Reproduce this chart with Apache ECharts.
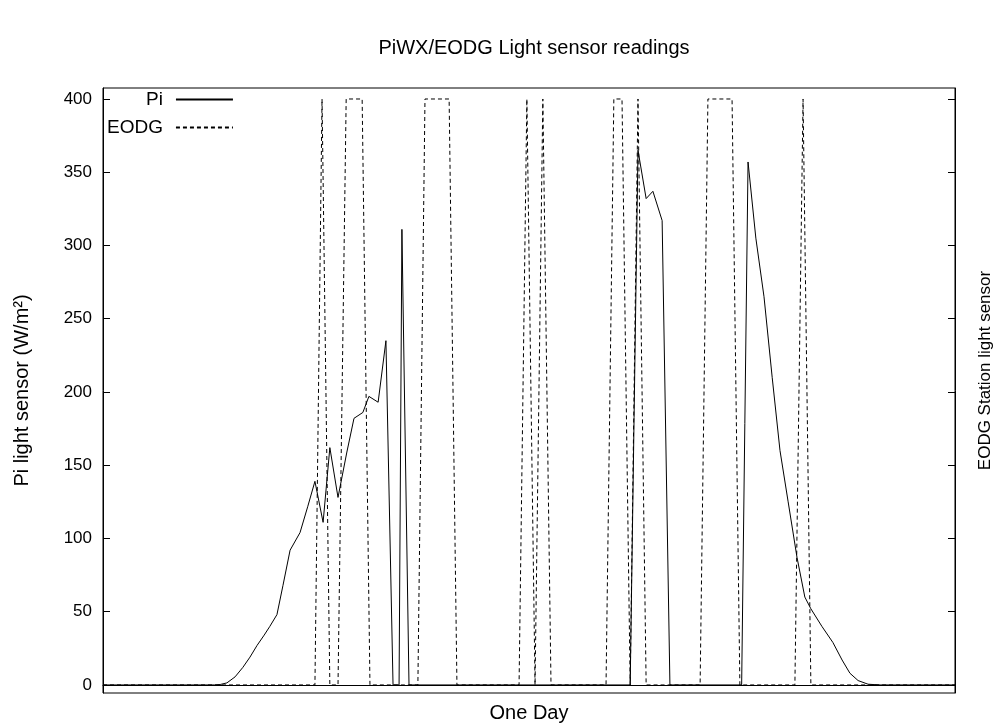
<!DOCTYPE html>
<html>
<head>
<meta charset="utf-8">
<script src="https://cdn.jsdelivr.net/npm/echarts@6/dist/echarts.min.js"></script>
<style>html,body{margin:0;padding:0;background:#fff}#c{width:1000px;height:727px}</style>
</head>
<body>
<div id="c"></div>
<script>
// Time of day in hours, values in W/m^2
const piHours = [0.00, 3.15, 3.30, 3.49, 3.72, 3.94, 4.14, 4.34, 4.54, 4.70, 4.90, 5.07, 5.27, 5.55, 5.77, 5.97, 6.20, 6.39, 6.62, 6.87, 7.07, 7.32, 7.49, 7.75, 7.97, 8.17, 8.34, 8.42, 8.62, 14.85, 15.07, 15.30, 15.49, 15.75, 15.97, 17.99, 18.17, 18.39, 18.62, 18.85, 19.07, 19.30, 19.55, 19.77, 19.94, 20.25, 20.56, 20.82, 21.04, 21.27, 21.55, 21.89, 24.00];
const piValues = [0, 0, 0.3, 1.4, 5.5, 12, 19, 27, 34, 40, 48, 68, 92, 104, 122, 139, 111, 162, 128, 159, 182, 186, 197, 193, 235, 0, 0, 311, 0, 0, 365, 332, 337, 317, 0, 0, 357, 305, 265, 210, 160, 125, 87, 60, 52, 40, 29, 17, 8, 3, 0.5, 0, 0];
const eodgHours = [0.00, 5.97, 6.17, 6.39, 6.62, 6.85, 7.30, 7.52, 8.87, 9.07, 9.75, 9.97, 11.72, 11.94, 12.17, 12.39, 12.62, 14.17, 14.39, 14.62, 14.85, 15.07, 15.30, 16.82, 17.04, 17.72, 17.94, 19.49, 19.72, 19.94, 24.00];
const eodgValues = [0, 0, 400, 0, 0, 400, 400, 0, 0, 400, 400, 0, 0, 400, 0, 400, 0, 0, 400, 400, 0, 400, 0, 0, 400, 400, 0, 0, 400, 0, 0];
const yTicks = [0, 50, 100, 150, 200, 250, 300, 350, 400];

const pair = (xs, ys) => xs.map((x, i) => [x, ys[i]]);
const font = "'Liberation Sans', Arial, sans-serif";
const FS = 20;

const chart = echarts.init(document.getElementById('c'), null, {renderer: 'canvas'});
chart.setOption({
  animation: false,
  backgroundColor: '#fff',
  textStyle: {fontFamily: font, color: '#000'},
  title: {
    text: 'PiWX/EODG Light sensor readings',
    left: 529, top: 33, textAlign: 'center',
    textStyle: {fontFamily: font, fontSize: FS, fontWeight: 'normal', color: '#000'}
  },
  legend: {
    orient: 'vertical', left: 102, top: 85, align: 'right',
    itemWidth: 57, itemHeight: 10, itemGap: 9,
    itemStyle: {opacity: 0},
    textStyle: {fontFamily: font, fontSize: 19, color: '#000', align: 'right', padding: [0, 8, 0, 0]},
    data: ['Pi', 'EODG']
  },
  grid: {left: 103, right: 45, top: 88, bottom: 34, show: true, borderColor: '#000', borderWidth: 1, containLabel: false, outerBoundsMode: 'none'},
  xAxis: {
    type: 'value', min: 0, max: 24,
    name: 'One Day', nameLocation: 'middle', nameGap: 10,
    nameTextStyle: {fontFamily: font, fontSize: FS, color: '#000', verticalAlign: 'top'},
    axisLine: {show: true, lineStyle: {color: '#000', width: 1}},
    axisTick: {show: false}, axisLabel: {show: false}, splitLine: {show: false}
  },
  yAxis: [{
    type: 'value', min: -5.5, max: 407.5, position: 'left',
    name: 'Pi light sensor (W/m²)', nameLocation: 'middle', nameRotate: 90, nameGap: 71,
    nameTextStyle: {fontFamily: font, fontSize: FS, color: '#000'},
    axisLine: {show: true, lineStyle: {color: '#000', width: 1}},
    axisTick: {show: true, inside: true, length: 7, customValues: yTicks, lineStyle: {color: '#000'}},
    axisLabel: {show: true, customValues: yTicks, margin: 11, fontFamily: font, fontSize: 17, color: '#000'},
    splitLine: {show: false}
  }, {
    type: 'value', min: -5.5, max: 407.5, position: 'right',
    name: 'EODG Station light sensor', nameLocation: 'middle', nameRotate: 90, nameGap: 22,
    nameTextStyle: {fontFamily: font, fontSize: 17, color: '#000', padding: [0, 0, 0, 40]},
    axisLine: {show: true, lineStyle: {color: '#000', width: 1}},
    axisTick: {show: true, inside: true, length: 7, customValues: yTicks, lineStyle: {color: '#000'}},
    axisLabel: {show: false},
    splitLine: {show: false}
  }],
  series: [{
    name: 'Pi', type: 'line', yAxisIndex: 0, showSymbol: false, symbol: 'none',
    data: pair(piHours, piValues),
    lineStyle: {color: '#000', width: 1, type: 'solid'},
    itemStyle: {color: '#000'}
  }, {
    name: 'EODG', type: 'line', yAxisIndex: 0, showSymbol: false, symbol: 'none',
    data: pair(eodgHours, eodgValues),
    lineStyle: {color: '#000', width: 1, type: [4, 3]},
    itemStyle: {color: '#000'}
  }]
});
</script>
</body>
</html>
